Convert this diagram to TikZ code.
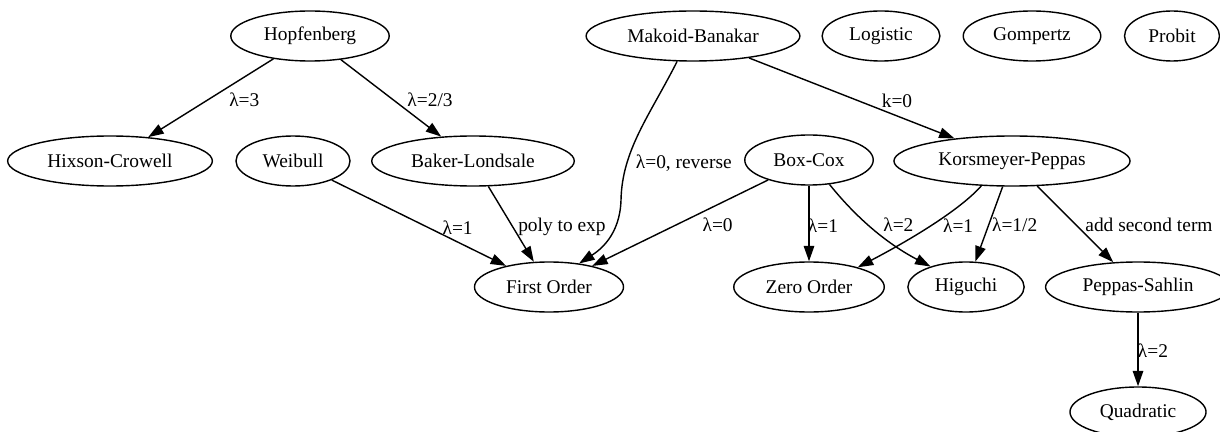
\documentclass[tikz,border=0pt]{standalone}
\usepackage{fontspec}
\setmainfont{Liberation Serif}
\usetikzlibrary{arrows.meta,shapes.geometric}

\begin{document}
\begin{tikzpicture}[x=0.025cm, y=-0.025cm, line width=1pt,
    >={Triangle[length=11pt,width=7.5pt]},
    model/.style={draw, ellipse, inner xsep=7pt, inner ysep=2pt,
      minimum height=1.25cm, font=\fontsize{13.8}{16}\selectfont},
    lbl/.style={inner sep=0pt, font=\fontsize{13.8}{16}\selectfont}]
  \useasboundingbox (0,0) rectangle (1220,432);
  % models
  \node[model] (hop)  at (310,36)  {Hopfenberg};
  \node[model] (mb)   at (693,36)  {Makoid-Banakar};
  \node[model] (log)  at (881,36)  {Logistic};
  \node[model] (gom)  at (1032,36) {Gompertz};
  \node[model] (pro)  at (1172,36) {Probit};
  \node[model] (hix)  at (110,161) {Hixson-Crowell};
  \node[model] (wei)  at (293,161) {Weibull};
  \node[model] (bak)  at (473,161) {Baker-Londsale};
  \node[model] (bc)   at (809,160) {Box-Cox};
  \node[model] (kp)   at (1012,161) {Korsmeyer-Peppas};
  \node[model] (fo)   at (549,287) {First Order};
  \node[model] (zo)   at (809,287) {Zero Order};
  \node[model] (hig)  at (966,287) {Higuchi};
  \node[model] (ps)   at (1138,287) {Peppas-Sahlin};
  \node[model] (quad) at (1138,412) {Quadratic};
  % special cases
  \path[->]
    (hop) edge node[lbl, pos=.52, xshift=.9cm] {λ=3} (hix)
          edge node[lbl, pos=.52, xshift=.925cm] {λ=2/3} (bak)
    (mb)  edge node[lbl, pos=.53, xshift=.975cm] {k=0} (kp)
    (wei) edge node[lbl, pos=.55, xshift=.75cm] {λ=1} (fo)
    (bak) edge node[lbl, pos=.54, xshift=1.225cm] {poly to exp} (fo)
    (bc)  edge node[lbl, pos=.52, xshift=1.025cm] {λ=0} (fo)
          edge node[lbl, pos=.53, xshift=.35cm] {λ=1} (zo)
    (kp)  edge node[lbl, pos=.51, xshift=.65cm] {λ=1/2} (hig)
          edge node[lbl, pos=.51, xshift=1.825cm] {add second term} (ps)
    (ps)  edge node[lbl, pos=.51, xshift=.375cm] {λ=2} (quad);
  \draw[->] (mb.238) .. controls (650,115) and (622,150) .. (621,200)
      node[lbl, pos=.74, xshift=1.425cm] {λ=0, reverse}
    .. controls (620,235) and (600,250) .. (fo.38);
  \draw[->] (bc.-50) .. controls (850,210) and (880,240) .. (hig.150)
      node[lbl, pos=.5, xshift=.74cm] {λ=2};
  \draw[->] (kp.219) .. controls (960,210) and (910,240) .. (zo.22)
      node[lbl, pos=.5, xshift=.675cm] {λ=1};
\end{tikzpicture}
\end{document}
